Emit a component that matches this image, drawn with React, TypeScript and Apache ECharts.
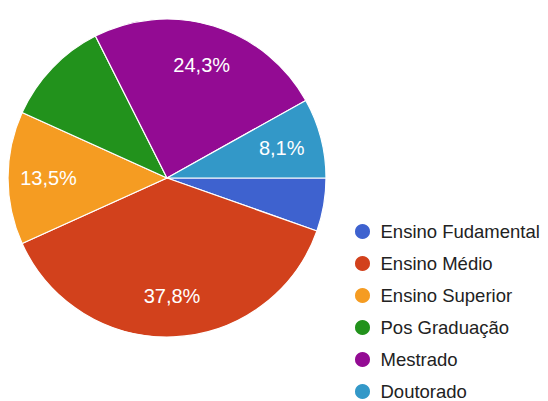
import React, { useEffect, useRef } from "react";
import * as echarts from "echarts";

const categories = [
  "Ensino Fudamental",
  "Ensino Médio",
  "Ensino Superior",
  "Pos Graduação",
  "Mestrado",
  "Doutorado",
];
const counts = [2, 14, 5, 4, 9, 3];
const colors = ["#3e62cf", "#d2411c", "#f59c22", "#22921c", "#930b93", "#3398c8"];
const hiddenLabels = ["Ensino Fudamental", "Pos Graduação"];

export default function App() {
  const ref = useRef<HTMLDivElement>(null);
  useEffect(() => {
    if (!ref.current) return;
    const chart = echarts.init(ref.current, undefined, { renderer: "svg" });
    const total = counts.reduce((a, b) => a + b, 0);
    const fmt = (v: number) => ((v / total) * 100).toFixed(1).replace(".", ",") + "%";
    const center = [167, 178];
    chart.setOption({
      animation: false,
      backgroundColor: "#ffffff",
      color: colors,
      legend: {
        type: "plain",
        orient: "vertical",
        left: 348,
        top: 217,
        height: 200,
        icon: "circle",
        itemWidth: 26,
        itemHeight: 17,
        itemGap: 13,
        data: categories,
        textStyle: {
          fontFamily: "Liberation Sans, Arial, sans-serif",
          fontSize: 18.5,
          lineHeight: 18,
          color: "#222222",
        },
      },
      series: [
        {
          type: "pie",
          center,
          radius: [0, 159],
          startAngle: 0,
          clockwise: true,
          silent: true,
          itemStyle: { borderColor: "#ffffff", borderWidth: 1.2 },
          label: { show: false },
          labelLine: { show: false },
          data: categories.map((name, i) => ({
            name,
            value: counts[i],
            itemStyle: { color: colors[i] },
          })),
        },
        {
          type: "pie",
          center,
          radius: [72, 159],
          startAngle: 0,
          clockwise: true,
          silent: true,
          itemStyle: { color: "rgba(0,0,0,0)", borderWidth: 0 },
          label: {
            show: true,
            position: "inside",
            color: "#ffffff",
            fontFamily: "Liberation Sans, Arial, sans-serif",
            fontSize: 20,
            formatter: (p: any) => fmt(p.value),
          },
          labelLine: { show: false },
          data: categories.map((name, i) => ({
            name,
            value: counts[i],
            label: { show: !hiddenLabels.includes(name) },
          })),
        },
      ],
    });
    return () => chart.dispose();
  }, []);
  return (
    <div
      ref={ref}
      style={{ position: "absolute", left: 0, top: 0, width: 548, height: 401 }}
    />
  );
}
